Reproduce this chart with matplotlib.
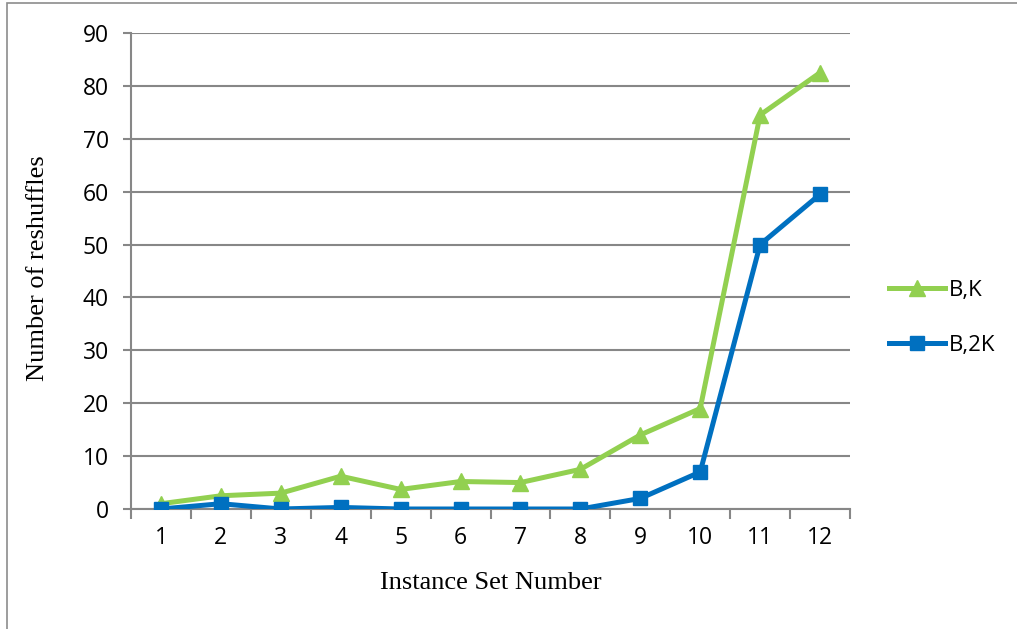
import matplotlib
matplotlib.use("Agg")
import matplotlib.pyplot as plt
from matplotlib.patches import Rectangle

instance_sets = [1, 2, 3, 4, 5, 6, 7, 8, 9, 10, 11, 12]
reshuffles_bk = [1, 2.5, 3, 6.2, 3.7, 5.2, 5, 7.5, 14, 19, 74.5, 82.5]
reshuffles_b2k = [0, 1, 0, 0.3, 0, 0, 0, 0, 2, 7, 50, 59.5]
y_ticks = [0, 10, 20, 30, 40, 50, 60, 70, 80, 90]

GREEN = "#92D050"
BLUE = "#0070C0"
GRID = "#878787"

fig = plt.figure(figsize=(10.17, 6.29), dpi=100)
ax = fig.add_axes([131 / 1017, 1 - 509 / 629, (850 - 131) / 1017, (509 - 33) / 629])

# outer frame
fig.patches.append(Rectangle((7 / 1017, -0.1), 1.2, 1 - 3 / 629 + 0.1,
                             transform=fig.transFigure, fill=False,
                             edgecolor="#8c8c8c", linewidth=1.2))

ax.plot(instance_sets, reshuffles_bk, color=GREEN, lw=3.6, marker="^",
        markersize=11.5, label="B,K", zorder=3)
ax.plot(instance_sets, reshuffles_b2k, color=BLUE, lw=3.6, marker="s",
        markersize=10.5, label="B,2K", zorder=4)

ax.set_xlim(0.5, 12.5)
ax.set_ylim(0, 90)
ax.set_yticks(y_ticks)
ax.yaxis.grid(True, color=GRID, lw=1.5)
ax.set_axisbelow(True)

# category boundaries carry tick marks; labels sit at the centres
ax.set_xticks([i + 0.5 for i in range(0, 13)])
ax.set_xticklabels([])
ax.set_xticks(instance_sets, minor=True)
ax.set_xticklabels([str(i) for i in instance_sets], minor=True)
ax.tick_params(axis="x", which="major", length=7, width=1.5, color=GRID, direction="out")
ax.tick_params(axis="x", which="minor", length=0, pad=12, labelsize=16.5)
ax.tick_params(axis="y", length=6, width=1.5, color=GRID, direction="out", pad=10, labelsize=16.5)
for lab in ax.get_xticklabels(minor=True) + ax.get_yticklabels():
    lab.set_fontfamily("Open Sans")

for side in ["top", "right"]:
    ax.spines[side].set_visible(False)
for side in ["left", "bottom"]:
    ax.spines[side].set_color(GRID)
    ax.spines[side].set_linewidth(1.5)

fig.text(491 / 1017, 1 - 583 / 629, "Instance Set Number", ha="center", va="center",
         fontsize=19, family="Liberation Serif")
fig.text(38 / 1017, 1 - 268 / 629, "Number of reshuffles", ha="center", va="center",
         rotation=90, fontsize=19, family="Liberation Serif")

leg = fig.legend(loc="center left", bbox_to_anchor=(889 / 1017, 1 - 318 / 629),
                 frameon=False, handlelength=2.5, handletextpad=0.2, labelspacing=1.55,
                 borderpad=0, borderaxespad=0,
                 prop={"family": "Open Sans", "size": 16})

fig.savefig("out.png", dpi=100)
